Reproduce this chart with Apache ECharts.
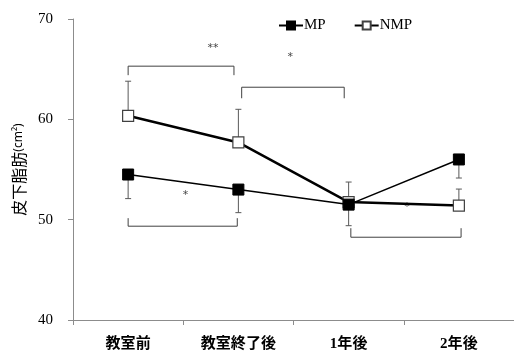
<!DOCTYPE html>
<html><head><meta charset="utf-8">
<script src="https://cdn.jsdelivr.net/npm/echarts@6/dist/echarts.min.js"></script>
<style>html,body{margin:0;padding:0;background:#fff}#c{width:514px;height:355px}</style>
</head><body><div id="c"></div>
<script>
var categories = ['教室前', '教室終了後', '1年後', '2年後'];
var yTicks = [40, 50, 60, 70];
var mpValues = [54.5, 53.0, 51.5, 56.0];
var mpErr = [2.4, 2.3, 2.1, 1.85];
var nmpValues = [60.35, 57.7, 51.75, 51.4];
var nmpErr = [3.45, 3.3, 2.0, 1.65];
// brackets: [xStart, xEnd, barValue, legEndValue] in category-index units
var brackets = [
  [0.0, 0.96, 65.3, 64.4],
  [1.03, 1.96, 63.2, 62.1],
  [0.0, 0.99, 49.35, 50.15],
  [2.02, 3.02, 48.25, 49.15]
];
// significance marks: [x, value, text]
var marks = [
  [0.77, 67.1, '**'],
  [1.47, 66.2, '*'],
  [0.52, 52.4, '*'],
  [2.53, 51.2, '*']
];

var chart = echarts.init(document.getElementById('c'));

function errItem(values, errs, dir) {
  return values.map(function (v, i) { return [i, v, v + dir * errs[i]]; });
}
function renderErr(params, api) {
  var p0 = api.coord([api.value(0), api.value(1)]);
  var p1 = api.coord([api.value(0), api.value(2)]);
  var hw = 3;
  var st = { stroke: '#595959', lineWidth: 1 };
  return { type: 'group', children: [
    { type: 'line', shape: { x1: p0[0], y1: p0[1], x2: p1[0], y2: p1[1] }, style: st },
    { type: 'line', shape: { x1: p1[0] - hw, y1: p1[1], x2: p1[0] + hw, y2: p1[1] }, style: st }
  ]};
}

var option = {
  animation: false,
  backgroundColor: '#fff',
  grid: { left: 73, right: 0, top: 19, bottom: 35, outerBoundsMode: 'none', containLabel: false },
  legend: {
    left: 273, top: 13, itemWidth: 24, itemHeight: 10, itemGap: 28,
    textStyle: { fontFamily: 'Liberation Serif', fontSize: 15, color: '#000', padding: [0, 0, 0, -4] },
    data: ['MP', 'NMP']
  },
  xAxis: [{
    type: 'category', data: categories,
    axisLine: { lineStyle: { color: '#8c8c8c' } },
    axisTick: { show: true, length: 5, lineStyle: { color: '#8c8c8c' } },
    axisLabel: { margin: 17, fontFamily: 'Liberation Serif, Noto Sans CJK JP', fontWeight: 'bold', fontSize: 15, color: '#000' }
  }, {
    type: 'value', min: -0.5, max: 3.5, show: false
  }],
  yAxis: {
    type: 'value', min: yTicks[0], max: yTicks[yTicks.length - 1], interval: 10,
    splitLine: { show: false },
    axisLine: { show: true, onZero: false, lineStyle: { color: '#8c8c8c' } },
    axisTick: { show: true, length: 5, lineStyle: { color: '#8c8c8c' } },
    axisLabel: { margin: 20, fontFamily: 'Liberation Serif', fontSize: 15, color: '#000' },
    name: '{a|皮下脂肪}{b|(cm²)}',
    nameLocation: 'middle', nameGap: 46, nameMoveOverlap: false,
    nameTextStyle: {
      rich: {
        a: { fontFamily: 'Noto Sans CJK JP', fontSize: 16, color: '#000' },
        b: { fontFamily: 'Noto Sans', fontSize: 12, color: '#000' }
      }
    }
  },
  series: [
    { type: 'custom', name: 'mpErr', z: 1, renderItem: renderErr, data: errItem(mpValues, mpErr, -1), silent: true },
    { type: 'custom', name: 'nmpErr', z: 1, renderItem: renderErr, data: errItem(nmpValues, nmpErr, 1), silent: true },
    {
      type: 'line', name: 'NMP', data: nmpValues, z: 3,
      symbol: 'rect', symbolSize: 11,
      lineStyle: { color: '#000', width: 2.5 },
      itemStyle: { color: '#fff', borderColor: '#404040', borderWidth: 1.2 }
    },
    {
      type: 'line', name: 'MP', data: mpValues, z: 4,
      symbol: 'rect', symbolSize: 11,
      lineStyle: { color: '#000', width: 1.5 },
      itemStyle: { color: '#000', borderColor: '#000', borderWidth: 1 }
    },
    {
      type: 'custom', xAxisIndex: 1, z: 2, silent: true,
      data: brackets,
      renderItem: function (params, api) {
        var a = api.coord([api.value(0), api.value(2)]);
        var b = api.coord([api.value(1), api.value(2)]);
        var c = api.coord([api.value(0), api.value(3)]);
        var d = api.coord([api.value(1), api.value(3)]);
        return { type: 'polyline', shape: { points: [c, a, b, d] },
          style: { stroke: '#404040', lineWidth: 1, fill: null } };
      }
    },
    {
      type: 'custom', xAxisIndex: 1, z: 2, silent: true,
      data: marks,
      renderItem: function (params, api) {
        var p = api.coord([api.value(0), api.value(1)]);
        return { type: 'text', x: p[0], y: p[1],
          style: { text: marks[params.dataIndex][2], fill: '#444', fontSize: 11, fontFamily: 'DejaVu Sans', align: 'center', verticalAlign: 'middle' } };
      }
    }
  ]
};
chart.setOption(option);
</script></body></html>
